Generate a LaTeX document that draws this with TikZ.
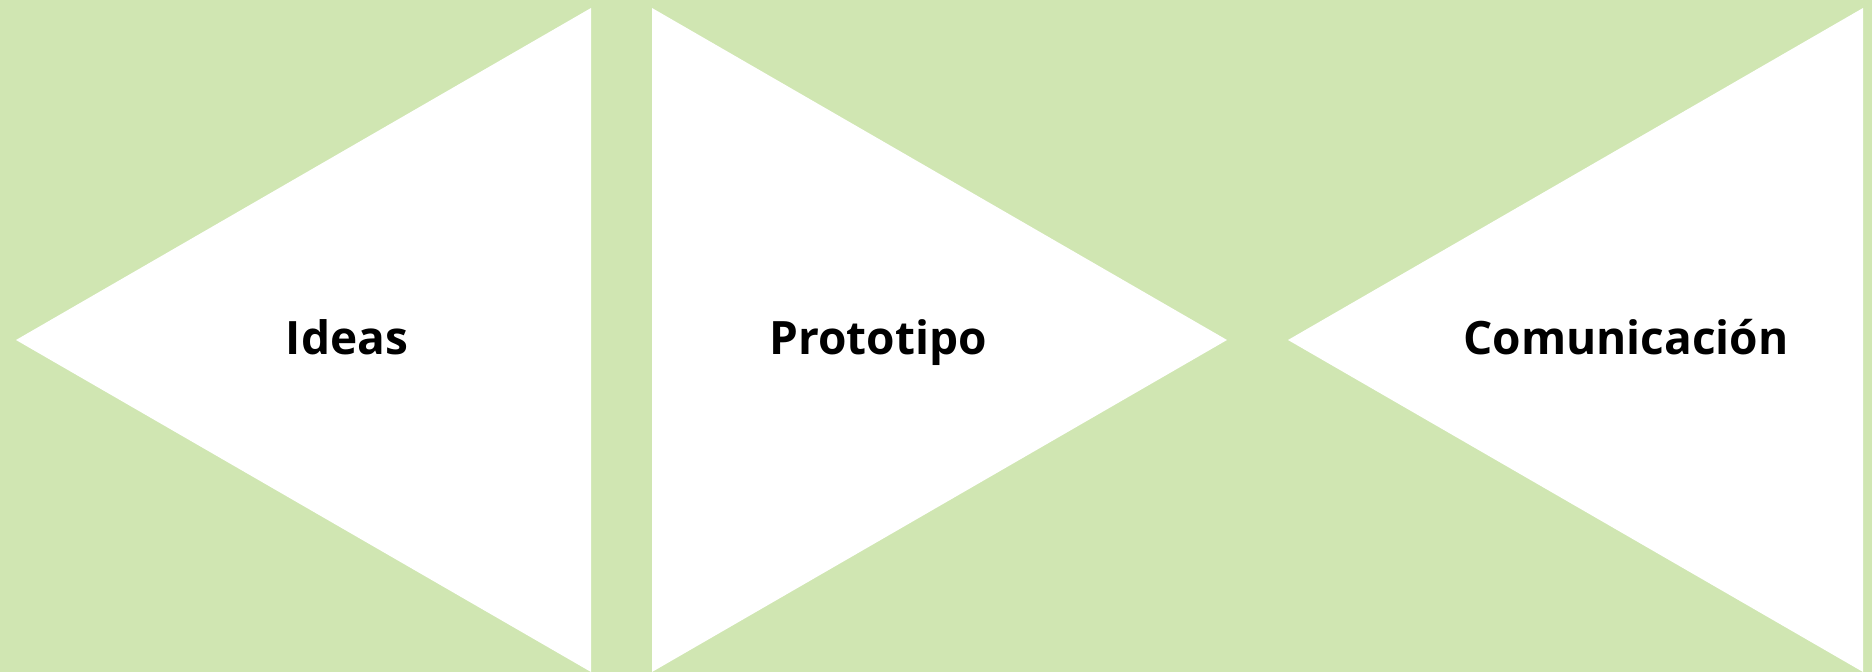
\documentclass[tikz,border=0pt]{standalone}
\usepackage{fontspec}
\setmainfont{Open Sans}
\definecolor{fondo}{RGB}{208,230,178}
\begin{document}
\begin{tikzpicture}[x=0.5pt,y=-0.5pt,every node/.style={font=\bfseries\fontsize{23}{27}\selectfont,inner sep=0pt,anchor=base},
    pieza/.style={fill=white}]
    \fill[fondo] (0,0) rectangle (1872,672);
    \useasboundingbox (0,0) rectangle (1872,672);
    % Las tres flechas blancas.
    \fill[pieza] (16,340) -- (591,8) -- (591,672) -- cycle;
    \fill[pieza] (652,8) -- (1227,340) -- (652,672) -- cycle;
    \fill[pieza] (1288,340) -- (1863,8) -- (1863,672) -- cycle;
    \node (ideas) at (347,355) {Ideas};
    \node (prototipo) at (878,355) {Prototipo};
    \node (comunicacion) at (1626,355) {Comunicación};
\end{tikzpicture}
\end{document}
